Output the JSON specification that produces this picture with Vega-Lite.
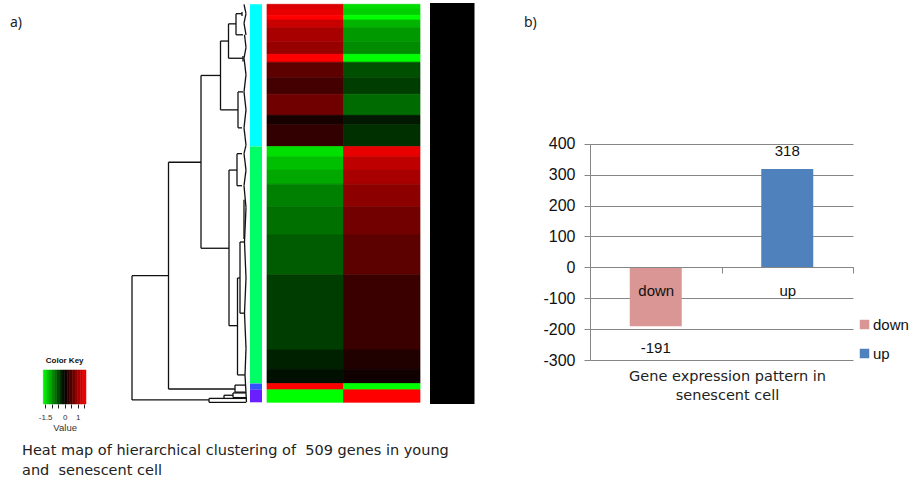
{
"$schema":"https://vega.github.io/schema/vega-lite/v6.json",
"background":"white","padding":0,"spacing":0,"bounds":"flush",
"config":{"view":{"stroke":null},"font":"Liberation Sans"},
"datasets":{
"cells":[
{"gene_from":0,"gene_to":6,"sample":"young","value":1.40},{"gene_from":0,"gene_to":6,"sample":"senescent","value":-1.42},
{"gene_from":6,"gene_to":14,"sample":"young","value":1.48},{"gene_from":6,"gene_to":14,"sample":"senescent","value":-1.34},
{"gene_from":14,"gene_to":20,"sample":"young","value":1.64},{"gene_from":14,"gene_to":20,"sample":"senescent","value":-1.64},
{"gene_from":20,"gene_to":30,"sample":"young","value":1.29},{"gene_from":20,"gene_to":30,"sample":"senescent","value":-1.16},
{"gene_from":30,"gene_to":48,"sample":"young","value":1.08},{"gene_from":30,"gene_to":48,"sample":"senescent","value":-0.99},
{"gene_from":48,"gene_to":64,"sample":"young","value":0.98},{"gene_from":48,"gene_to":64,"sample":"senescent","value":-0.90},
{"gene_from":64,"gene_to":74,"sample":"young","value":1.64},{"gene_from":64,"gene_to":74,"sample":"senescent","value":-1.64},
{"gene_from":74,"gene_to":94,"sample":"young","value":0.59},{"gene_from":74,"gene_to":94,"sample":"senescent","value":-0.51},
{"gene_from":94,"gene_to":115,"sample":"young","value":0.44},{"gene_from":94,"gene_to":115,"sample":"senescent","value":-0.39},
{"gene_from":115,"gene_to":142,"sample":"young","value":0.72},{"gene_from":115,"gene_to":142,"sample":"senescent","value":-0.69},
{"gene_from":142,"gene_to":154,"sample":"young","value":0.15},{"gene_from":142,"gene_to":154,"sample":"senescent","value":-0.16},
{"gene_from":154,"gene_to":182,"sample":"young","value":0.32},{"gene_from":154,"gene_to":182,"sample":"senescent","value":-0.31},
{"gene_from":182,"gene_to":195,"sample":"young","value":-1.44},{"gene_from":182,"gene_to":195,"sample":"senescent","value":1.49},
{"gene_from":195,"gene_to":212,"sample":"young","value":-1.23},{"gene_from":195,"gene_to":212,"sample":"senescent","value":1.23},
{"gene_from":212,"gene_to":230,"sample":"young","value":-1.08},{"gene_from":212,"gene_to":230,"sample":"senescent","value":1.08},
{"gene_from":230,"gene_to":259,"sample":"young","value":-0.82},{"gene_from":230,"gene_to":259,"sample":"senescent","value":0.90},
{"gene_from":259,"gene_to":295,"sample":"young","value":-0.72},{"gene_from":259,"gene_to":295,"sample":"senescent","value":0.73},
{"gene_from":295,"gene_to":346,"sample":"young","value":-0.59},{"gene_from":295,"gene_to":346,"sample":"senescent","value":0.60},
{"gene_from":346,"gene_to":442,"sample":"young","value":-0.39},{"gene_from":346,"gene_to":442,"sample":"senescent","value":0.37},
{"gene_from":442,"gene_to":467,"sample":"young","value":-0.21},{"gene_from":442,"gene_to":467,"sample":"senescent","value":0.21},
{"gene_from":467,"gene_to":485,"sample":"young","value":-0.10},{"gene_from":467,"gene_to":485,"sample":"senescent","value":0.10},
{"gene_from":485,"gene_to":493,"sample":"young","value":1.64},{"gene_from":485,"gene_to":493,"sample":"senescent","value":-1.64},
{"gene_from":493,"gene_to":509,"sample":"young","value":-1.64},{"gene_from":493,"gene_to":509,"sample":"senescent","value":1.64}
],
"clusters":[
{"gene_from":0,"gene_to":182,"track":"cluster","cluster":"A"},
{"gene_from":182,"gene_to":485,"track":"cluster","cluster":"B"},
{"gene_from":485,"gene_to":493,"track":"cluster","cluster":"C"},
{"gene_from":493,"gene_to":509,"track":"cluster","cluster":"D"}
],
"tree":[
{"h1":116,"h2":116,"r1":347,"r2":506},{"h1":116,"h2":79.5,"r1":347,"r2":347},{"h1":116,"h2":39,"r1":506,"r2":506},
{"h1":79.5,"h2":79.5,"r1":202,"r2":492},{"h1":79.5,"h2":47,"r1":202,"r2":202},{"h1":79.5,"h2":13,"r1":492,"r2":492},
{"h1":47,"h2":47,"r1":91,"r2":312},{"h1":47,"h2":27.5,"r1":91,"r2":91},{"h1":47,"h2":19,"r1":312,"r2":312},
{"h1":27.5,"h2":27.5,"r1":47,"r2":135},{"h1":27.5,"h2":19.5,"r1":47,"r2":47},{"h1":27.5,"h2":10,"r1":135,"r2":135},
{"h1":19.5,"h2":19.5,"r1":25,"r2":69},{"h1":19.5,"h2":12,"r1":25,"r2":25},{"h1":19.5,"h2":5,"r1":69,"r2":69},
{"h1":12,"h2":12,"r1":12,"r2":39},{"h1":12,"h2":6,"r1":12,"r2":12},{"h1":12,"h2":5,"r1":39,"r2":39},
{"h1":10,"h2":10,"r1":112,"r2":158},{"h1":10,"h2":5,"r1":112,"r2":112},{"h1":10,"h2":6,"r1":158,"r2":158},
{"h1":19,"h2":19,"r1":212,"r2":411},{"h1":19,"h2":11,"r1":212,"r2":212},{"h1":19,"h2":10.5,"r1":411,"r2":411},
{"h1":11,"h2":11,"r1":191,"r2":232},{"h1":11,"h2":6,"r1":191,"r2":191},{"h1":11,"h2":6,"r1":232,"r2":232},
{"h1":10.5,"h2":10.5,"r1":350,"r2":474},{"h1":10.5,"h2":8,"r1":350,"r2":350},{"h1":10.5,"h2":3,"r1":474,"r2":474},
{"h1":8,"h2":8,"r1":304,"r2":395},{"h1":8,"h2":3,"r1":304,"r2":304},{"h1":8,"h2":3,"r1":395,"r2":395},
{"h1":39,"h2":39,"r1":504,"r2":509},{"h1":39,"h2":24,"r1":504,"r2":504},{"h1":39,"h2":2,"r1":509,"r2":509},
{"h1":24,"h2":24,"r1":500,"r2":504},{"h1":24,"h2":15,"r1":500,"r2":500},{"h1":24,"h2":2,"r1":504,"r2":504},
{"h1":15,"h2":15,"r1":497,"r2":503},{"h1":15,"h2":2,"r1":497,"r2":497},{"h1":15,"h2":2,"r1":503,"r2":503},
{"h1":13,"h2":13,"r1":487,"r2":496},{"h1":13,"h2":2,"r1":487,"r2":487},{"h1":13,"h2":2,"r1":496,"r2":496},
{"h1":4,"h2":2,"r1":0,"r2":12},{"h1":2,"h2":4,"r1":12,"r2":24},{"h1":4,"h2":2,"r1":24,"r2":39},{"h1":3.5,"h2":2,"r1":39,"r2":55},{"h1":2,"h2":4,"r1":55,"r2":69},{"h1":4,"h2":2,"r1":69,"r2":90},
{"h1":2,"h2":4,"r1":90,"r2":112},{"h1":4,"h2":2,"r1":112,"r2":135},{"h1":2,"h2":4,"r1":135,"r2":158},{"h1":4,"h2":2,"r1":158,"r2":180},{"h1":2,"h2":4,"r1":180,"r2":191},{"h1":4,"h2":2,"r1":191,"r2":212},
{"h1":2,"h2":4,"r1":212,"r2":232},{"h1":4,"h2":2,"r1":232,"r2":260},{"h1":2,"h2":3.5,"r1":260,"r2":304},{"h1":3.5,"h2":2,"r1":304,"r2":350},{"h1":2,"h2":3.5,"r1":350,"r2":395},{"h1":3.5,"h2":2,"r1":395,"r2":440},{"h1":2,"h2":3,"r1":440,"r2":474},{"h1":3,"h2":1.5,"r1":474,"r2":509},
{"h1":6,"h2":6,"r1":10,"r2":15},{"h1":5,"h2":5,"r1":66,"r2":73},{"h1":4,"h2":4,"r1":250,"r2":300}
],
"key":[
{"k":"Color Key","v0":-1.64,"v1":-1.4,"value":-1.52},{"k":"Color Key","v0":-1.4,"v1":-1.2,"value":-1.3},{"k":"Color Key","v0":-1.2,"v1":-1,"value":-1.1},{"k":"Color Key","v0":-1,"v1":-0.8,"value":-0.9},{"k":"Color Key","v0":-0.8,"v1":-0.6,"value":-0.7},{"k":"Color Key","v0":-0.6,"v1":-0.4,"value":-0.5},{"k":"Color Key","v0":-0.4,"v1":-0.2,"value":-0.3},{"k":"Color Key","v0":-0.2,"v1":0,"value":-0.1},
{"k":"Color Key","v0":0,"v1":0.2,"value":0.1},{"k":"Color Key","v0":0.2,"v1":0.4,"value":0.3},{"k":"Color Key","v0":0.4,"v1":0.6,"value":0.5},{"k":"Color Key","v0":0.6,"v1":0.8,"value":0.7},{"k":"Color Key","v0":0.8,"v1":1,"value":0.9},{"k":"Color Key","v0":1,"v1":1.2,"value":1.1},{"k":"Color Key","v0":1.2,"v1":1.4,"value":1.3},{"k":"Color Key","v0":1.4,"v1":1.64,"value":1.52}
],
"bars":[{"group":"down","genes":-191},{"group":"up","genes":318}]
},
"hconcat":[
{"width":590,"height":489,
"title":{"text":"a)","orient":"top","anchor":"start","frame":"group","dx":10,"dy":34,"fontSize":14,"fontWeight":"normal","font":"Noto Sans","color":"#222"},
"resolve":{"scale":{"x":"independent","y":"independent","color":"independent","stroke":"independent"},"axis":{"x":"independent","y":"independent"}},
"layer":[
{"data":{"name":"tree"},"mark":{"type":"rule","color":"#111","strokeWidth":1.3},
"encoding":{
"x":{"field":"h1","type":"quantitative","axis":null,"scale":{"domain":[0,116],"range":[248,132]}},
"x2":{"field":"h2"},
"y":{"field":"r1","type":"quantitative","axis":null,"scale":{"domain":[0,509],"range":[4.3,402.3]}},
"y2":{"field":"r2"}}},
{"data":{"name":"clusters"},"mark":{"type":"rect"},
"encoding":{
"x":{"field":"track","type":"nominal","axis":null,"scale":{"domain":["cluster"],"range":[250,262],"paddingInner":0,"paddingOuter":0}},
"y":{"field":"gene_from","type":"quantitative","axis":null,"scale":{"domain":[0,509],"range":[4.3,402.3]}},
"y2":{"field":"gene_to"},
"color":{"field":"cluster","type":"nominal","legend":null,"scale":{"domain":["A","B","C","D"],"range":["#00ffff","#00ff66","#3355ff","#6a1fff"]}}}},
{"data":{"name":"cells"},"mark":{"type":"rect","strokeWidth":0.7},
"encoding":{
"x":{"field":"sample","type":"nominal","axis":null,"scale":{"domain":["young","senescent"],"range":[267,420],"paddingInner":0,"paddingOuter":0}},
"y":{"field":"gene_from","type":"quantitative","axis":null,"scale":{"domain":[0,509],"range":[4.3,402.3]}},
"y2":{"field":"gene_to"},
"color":{"field":"value","type":"quantitative","legend":null,"scale":{"domain":[-1.64,0,1.64],"range":["#00ff00","#000000","#ff0000"],"interpolate":"rgb"}},
"stroke":{"field":"value","type":"quantitative","legend":null,"scale":{"domain":[-1.64,0,1.64],"range":["#00ff00","#000000","#ff0000"],"interpolate":"rgb"}}}},
{"data":{"values":[{"gene_from":0,"gene_to":509,"track":"gene labels"}]},"mark":{"type":"rect","color":"#000"},
"encoding":{
"x":{"field":"track","type":"nominal","axis":null,"scale":{"domain":["gene labels"],"range":[430,474.5],"paddingInner":0,"paddingOuter":0}},
"y":{"field":"gene_from","type":"quantitative","axis":null,"scale":{"domain":[0,509],"range":[3,404]}},
"y2":{"field":"gene_to"}}},
{"data":{"name":"key"},"mark":{"type":"rect","strokeWidth":0.5},
"encoding":{
"x":{"field":"v0","type":"quantitative","scale":{"domain":[-1.64,1.64],"range":[43.3,86]},
"axis":{"orient":"bottom","offset":-85,"values":[-1.5,-1,-0.5,0,0.5,1,1.5],"labelExpr":"datum.value==-1.5||datum.value==0||datum.value==1?toString(datum.value):''","labelOverlap":false,"domain":false,"grid":false,"tickSize":4,"tickColor":"#222","labelFontSize":8,"labelColor":"#333","labelPadding":5,"title":"Value","titleFontSize":9.5,"titleFontWeight":"normal","titleColor":"#333","titlePadding":1}},
"x2":{"field":"v1"},
"y":{"field":"k","type":"nominal","axis":null,"scale":{"domain":["Color Key"],"range":[370,404],"paddingInner":0,"paddingOuter":0}},
"color":{"field":"value","type":"quantitative","legend":null,"scale":{"domain":[-1.64,0,1.64],"range":["#00ff00","#000000","#ff0000"],"interpolate":"rgb"}},
"stroke":{"field":"value","type":"quantitative","legend":null,"scale":{"domain":[-1.64,0,1.64],"range":["#00ff00","#000000","#ff0000"],"interpolate":"rgb"}}}},
{"data":{"values":[{"k":"Color Key","at":0}]},"mark":{"type":"text","fontSize":8,"fontWeight":"bold","color":"#111","align":"center","baseline":"middle"},
"encoding":{
"x":{"field":"at","type":"quantitative","axis":null,"scale":{"domain":[-1.64,1.64],"range":[43.3,86]}},
"y":{"field":"k","type":"nominal","axis":null,"scale":{"type":"point","domain":["Color Key"],"range":[356,366]}},
"text":{"field":"k"}}},
{"data":{"values":[{"line":"Heat map of hierarchical clustering of\u00a0 509 genes in young"},{"line":"and\u00a0 senescent cell"}]},"mark":{"type":"text","fontSize":14.5,"font":"DejaVu Sans","color":"#222","align":"left","baseline":"middle"},
"encoding":{
"x":{"field":"line","type":"nominal","axis":null,"scale":{"type":"point","domain":["Heat map of hierarchical clustering of\u00a0 509 genes in young","and\u00a0 senescent cell"],"range":[22,22]}},
"y":{"field":"line","type":"nominal","axis":null,"scale":{"type":"point","padding":0,"domain":["Heat map of hierarchical clustering of\u00a0 509 genes in young","and\u00a0 senescent cell"],"range":[451,471]}},
"text":{"field":"line"}}}
]},
{"width":263,"height":489,
"title":{"text":"b)","orient":"top","anchor":"start","frame":"group","dx":-66,"dy":34,"fontSize":14,"fontWeight":"normal","font":"Noto Sans","color":"#222"},
"data":{"name":"bars"},
"encoding":{
"x":{"field":"group","type":"nominal","scale":{"domain":["down","up"],"paddingInner":0,"paddingOuter":0},
"axis":{"orient":"bottom","offset":-222,"title":["Gene expression pattern in","senescent cell"],"titleFont":"DejaVu Sans","titleFontSize":14.5,"titleFontWeight":"normal","titleColor":"#222","titleX":137,"titleY":102,"titleLineHeight":19,"tickBand":"extent","tickSize":6,"tickColor":"#868686","domainColor":"#868686","labelAngle":0,"labelFontSize":15,"labelColor":"#111","labelPadding":10,"grid":false,"zindex":1}},
"y":{"field":"genes","type":"quantitative","scale":{"domain":[-300,400],"range":[360,143.7],"nice":false},
"axis":{"values":[-300,-200,-100,0,100,200,300,400],"labelExpr":"toString(datum.value)","title":null,"grid":true,"gridColor":"#868686","gridOpacity":1,"domainColor":"#868686","tickColor":"#868686","tickSize":6,"labelFontSize":16,"labelColor":"#111","labelPadding":9,"labelBound":false}}
},
"layer":[
{"mark":{"type":"bar","width":52},
"encoding":{"color":{"field":"group","type":"nominal","scale":{"domain":["down","up"],"range":["#D99694","#4F81BD"]},
"legend":{"orient":"none","legendX":857,"legendY":317,"title":null,"symbolType":"square","symbolSize":90,"symbolStrokeWidth":0,"labelFontSize":15,"labelColor":"#111","rowPadding":13,"labelOffset":1}}}},
{"transform":[{"filter":"datum.genes>0"}],"mark":{"type":"text","fontSize":15,"color":"#111","baseline":"middle","dy":-18},
"encoding":{"text":{"field":"genes","type":"nominal"}}},
{"transform":[{"filter":"datum.genes<0"}],"mark":{"type":"text","fontSize":15,"color":"#111","baseline":"middle","dy":22},
"encoding":{"text":{"field":"genes","type":"nominal"}}}
]}
]
}
